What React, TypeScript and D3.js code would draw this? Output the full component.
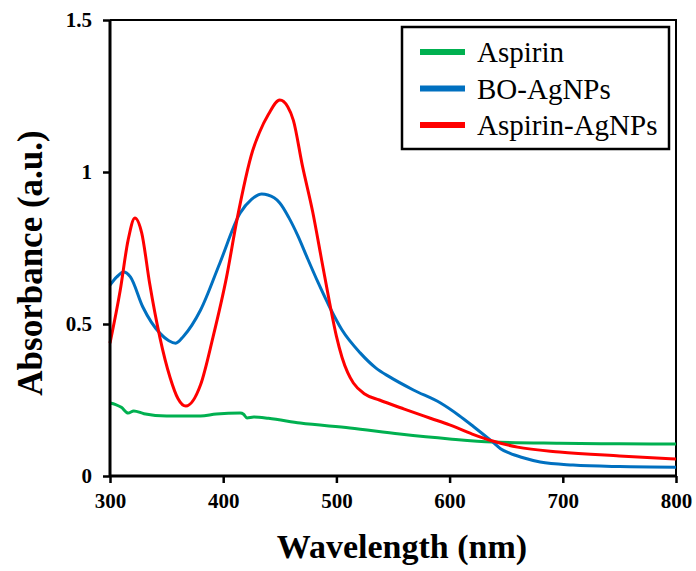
import React, { useEffect, useRef } from 'react';
import * as d3 from 'd3';

// Aspirin (green)
const aspirinNm = [300, 305, 310, 316, 321, 330, 350, 380, 394, 415, 418, 421, 427, 440, 468, 512, 556, 600, 638, 697, 750, 800];
const aspirinAbs = [0.24, 0.235, 0.226, 0.207, 0.214, 0.205, 0.197, 0.197, 0.204, 0.207, 0.203, 0.191, 0.194, 0.19, 0.174, 0.158, 0.138, 0.122, 0.112, 0.108, 0.106, 0.105];

// BO-AgNPs (blue)
const boNm = [300, 306, 312, 318, 329, 344, 352, 358, 365, 380, 397, 415, 425, 434, 445, 450, 458, 466, 474, 484, 494, 505, 521, 535, 547, 568, 592, 608, 621, 638, 645, 653, 665, 680, 709, 750, 800];
const boAbs = [0.628, 0.655, 0.671, 0.655, 0.556, 0.47, 0.445, 0.437, 0.46, 0.546, 0.7, 0.865, 0.91, 0.928, 0.915, 0.898, 0.85, 0.79, 0.72, 0.635, 0.556, 0.48, 0.405, 0.355, 0.326, 0.283, 0.24, 0.2, 0.163, 0.112, 0.09, 0.075, 0.06, 0.046, 0.036, 0.031, 0.029];

// Aspirin-AgNPs (red)
const aspAgNm = [300, 309, 316, 322, 328, 335, 344, 353, 360, 367, 380, 391, 403, 412, 426, 432, 440, 450, 457, 462, 470, 479, 487, 494, 500, 505, 510, 515, 525, 538, 560, 583, 600, 620, 638, 660, 697, 750, 800];
const aspAgAbs = [0.437, 0.61, 0.776, 0.849, 0.8, 0.634, 0.457, 0.325, 0.255, 0.23, 0.3, 0.457, 0.655, 0.84, 1.07, 1.13, 1.19, 1.237, 1.215, 1.17, 1.02, 0.87, 0.71, 0.57, 0.46, 0.39, 0.34, 0.306, 0.27, 0.25, 0.22, 0.19, 0.168, 0.138, 0.115, 0.095, 0.079, 0.066, 0.056];

const xTicks = [300, 400, 500, 600, 700, 800];
const yTicks = [0, 0.5, 1, 1.5];
const yTickLabels = ['0', '0.5', '1', '1.5'];

const seriesNames = ['Aspirin', 'BO-AgNPs', 'Aspirin-AgNPs'];
const seriesColors = ['#00B050', '#0070C0', '#FF0000'];

const W = 696;
const H = 571;
const margin = { left: 110, top: 20, right: 20, bottom: 95 };

function App() {
  const svgRef = useRef<SVGSVGElement>(null);

  useEffect(() => {
    const svg = d3.select(svgRef.current);
    svg.selectAll('*').remove();

    const x = d3.scaleLinear().domain([300, 800]).range([margin.left, W - margin.right]);
    const y = d3.scaleLinear().domain([0, 1.5]).range([H - margin.bottom, margin.top]);
    const font = '"Liberation Serif", "Times New Roman", serif';

    // frame (top and right)
    svg.append('path')
      .attr('d', `M${x(300)},${y(1.5)}H${x(800)}V${y(0)}`)
      .attr('fill', 'none').attr('stroke', '#000').attr('stroke-width', 2);

    const series = [
      { nm: aspirinNm, abs: aspirinAbs },
      { nm: boNm, abs: boAbs },
      { nm: aspAgNm, abs: aspAgAbs },
    ];

    const line = d3.line<[number, number]>()
      .x(d => x(d[0]))
      .y(d => y(d[1]))
      .curve(d3.curveMonotoneX);

    series.forEach((s, i) => {
      const pts = s.nm.map((n, j) => [n, s.abs[j]] as [number, number]);
      svg.append('path')
        .attr('d', line(pts))
        .attr('fill', 'none')
        .attr('stroke', seriesColors[i])
        .attr('stroke-width', 3);
    });

    // x axis
    const xAxis = svg.append('g')
      .attr('transform', `translate(0,${y(0)})`)
      .call(d3.axisBottom(x).tickValues(xTicks).tickSize(7).tickPadding(10).tickFormat(d3.format('d')));
    xAxis.select('.domain').attr('stroke-width', 3).attr('d', `M${x(300)},0H${x(800)}`);
    xAxis.selectAll('.tick line').attr('stroke-width', 2.5);
    xAxis.selectAll('text')
      .attr('font-family', font).attr('font-weight', 'bold').attr('font-size', 21).attr('fill', '#000');

    // y axis
    const yAxis = svg.append('g')
      .attr('transform', `translate(${x(300)},0)`)
      .call(d3.axisLeft(y).tickValues(yTicks).tickSize(7).tickPadding(11)
        .tickFormat((d, i) => yTickLabels[i]));
    yAxis.select('.domain').attr('stroke-width', 3).attr('d', `M0,${y(1.5)}V${y(0)}`);
    yAxis.selectAll('.tick line').attr('stroke-width', 2.5);
    yAxis.selectAll('text')
      .attr('font-family', font).attr('font-weight', 'bold').attr('font-size', 21).attr('fill', '#000');

    // axis titles
    svg.append('text')
      .attr('x', 402)
      .attr('y', 558)
      .attr('text-anchor', 'middle')
      .attr('font-family', font).attr('font-weight', 'bold').attr('font-size', 34)
      .text('Wavelength (nm)');

    svg.append('text')
      .attr('transform', `translate(42,263) rotate(-90)`)
      .attr('text-anchor', 'middle')
      .attr('font-family', font).attr('font-weight', 'bold').attr('font-size', 35)
      .text('Absorbance (a.u.)');

    // legend
    const lg = svg.append('g');
    lg.append('rect')
      .attr('x', 402).attr('y', 27).attr('width', 267).attr('height', 122)
      .attr('fill', '#fff').attr('stroke', '#000').attr('stroke-width', 2.5);
    seriesNames.forEach((name, i) => {
      const cy = 52 + i * 36.5;
      lg.append('line')
        .attr('x1', 420).attr('x2', 465).attr('y1', cy).attr('y2', cy)
        .attr('stroke', seriesColors[i]).attr('stroke-width', 6);
      lg.append('text')
        .attr('x', 477).attr('y', cy + 10)
        .attr('font-family', font).attr('font-size', 29)
        .text(name);
    });
  }, []);

  return (
    <svg ref={svgRef} width={W} height={H} style={{ display: 'block', position: 'absolute', left: 0, top: 0 }}></svg>
  );
}

export default App;
